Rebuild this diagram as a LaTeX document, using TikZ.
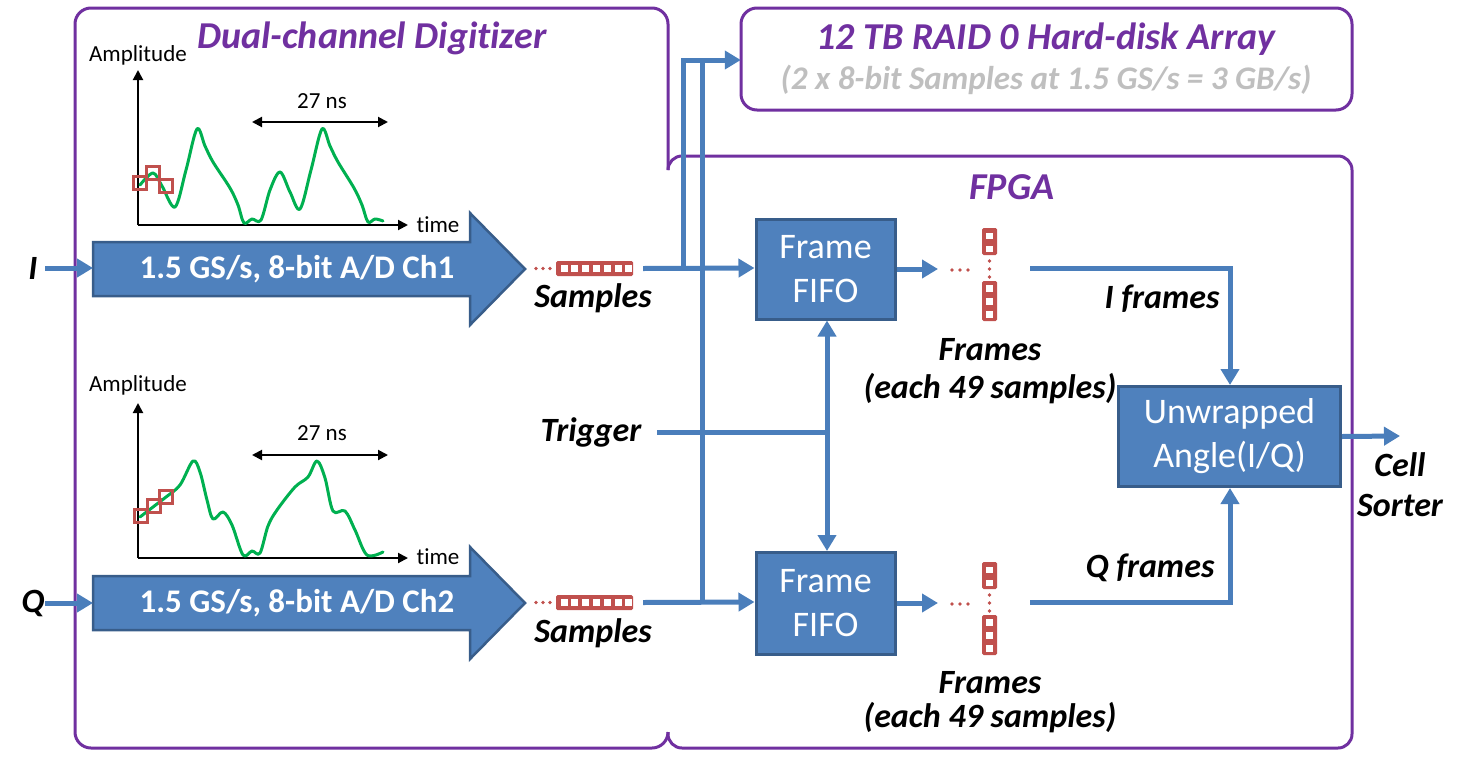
\documentclass[tikz,border=0pt]{standalone}
\usepackage{fontspec}
\setmainfont{Carlito}[Ligatures=NoCommon]
\usetikzlibrary{arrows.meta}
\definecolor{purp}{HTML}{7030A0}
\definecolor{blu}{HTML}{4F81BD}
\definecolor{bord}{HTML}{385D8A}
\definecolor{conn}{HTML}{4A7EBB}
\definecolor{grn}{HTML}{00B050}
\definecolor{smp}{HTML}{C0504D}
\definecolor{lgray}{HTML}{BFBFBF}
\tikzset{
  frame/.style={draw=purp,line width=3pt},
  link/.style={draw=conn,line width=5pt},
  arr/.style={link,-{Triangle[length=16pt,width=18pt]}},
  biarr/.style={link,{Triangle[length=16pt,width=18pt]}-{Triangle[length=16pt,width=18pt]}},
  blockbox/.style={draw=bord,fill=blu,line width=3pt,text=white,align=center,
    font=\fontsize{36}{44}\selectfont},
  adcarrow/.style={draw=bord,fill=blu,line width=2.5pt},
  lbl/.style={font=\fontsize{34}{38}\selectfont\bfseries\itshape,text=black,inner sep=0pt},
  ttl/.style={font=\fontsize{38}{42}\selectfont\bfseries\itshape,text=purp,inner sep=0pt},
  small/.style={font=\fontsize{23}{26}\selectfont,inner sep=0pt},
  axis/.style={line width=2pt,-{Triangle[length=10pt,width=10pt]}},
  dim/.style={line width=2pt,{Triangle[length=10pt,width=10pt]}-{Triangle[length=10pt,width=10pt]}},
  wave/.style={draw=grn,line width=3pt,line cap=round,line join=round},
  sq/.style={draw=smp,line width=3pt},
  dot/.style={fill=smp},
}
\begin{document}
\begin{tikzpicture}[x=1pt,y=-1pt]
\useasboundingbox (0,0) rectangle (1462,761);

% ---- purple frames ----
\draw[frame,rounded corners=16pt] (668,170) -- (668,8) -- (75,8) -- (75,748) -- (668,748) -- (668,732);
\draw[frame,rounded corners=14pt] (668,732) -- (668,748) -- (1352,748) -- (1352,156) -- (668,156) -- (668,170);
\draw[frame,rounded corners=16pt] (741,8) rectangle (1352,110);
\node[draw=none,minimum width=611pt,minimum height=102pt] (raid) at (1046.5,59) {};

% ---- titles ----
\node[ttl] (tdig) at (372,38) {Dual-channel Digitizer};
\node[ttl] (traid) at (1046,39) {12 TB RAID 0 Hard-disk Array};
\node[ttl,text=lgray,font=\fontsize{33}{36}\selectfont\bfseries\itshape] (traid2) at (1046,80) {(2 x 8-bit Samples at 1.5 GS/s = 3 GB/s)};
\node[ttl] (tfpga) at (1012,187) {FPGA};

% ---- waveform plots ----
\foreach \dy/\w in {0/1,333/2}{
  \begin{scope}[yshift=-\dy pt]
  \draw[axis] (138,225) -- (138,70);
  \draw[axis] (138,225) -- (408,225);
  \draw[dim] (252,122) -- (388,122);
  \end{scope}
}
\node[small] (amp1) at (138,55) {Amplitude};
\node[small] (ns1) at (322,101) {27 ns};
\node[small] (tm1) at (438,225) {time};
\node[small] (amp2) at (138,385) {Amplitude};
\node[small] (ns2) at (322,433) {27 ns};
\node[small] (tm2) at (438,557) {time};

\draw[wave] plot[smooth,tension=0.55] coordinates {(140,185) (153,173) (162,186) (175,207) (186,170) (197,129) (205,146) (213,162) (230,188) (238,205) (244,223) (252,219) (261,220) (270,190) (280,172) (290,192) (300,209) (311,170) (322,129) (330,146) (338,162) (354,188) (362,205) (368,222) (375,219) (383,221)};
\draw[wave] plot[smooth,tension=0.55] coordinates {(140,517) (153,507) (166,497) (180,485) (193,461) (200,472) (207,500) (213,519) (223,512) (232,525) (243,555) (252,551) (260,553) (268,526) (277,510) (295,487) (308,477) (317,461) (325,478) (333,511) (345,511) (355,530) (367,555) (383,552)};
\foreach \cx/\cy in {140/182.5,153/173,165.5/186,141/516,153.5/506,166/497}
  \draw[sq] (\cx-6.5,\cy-6.5) rectangle (\cx+6.5,\cy+6.5);

% ---- ADC block arrows ----
\draw[adcarrow] (93,242) -- (470,242) -- (470,213) -- (525,269) -- (470,325) -- (470,296) -- (93,296) -- cycle;
\node[text=white,font=\fontsize{33}{36}\selectfont\bfseries,inner sep=0pt] (adc1) at (297,269) {1.5 GS/s, 8-bit A/D Ch1};
\draw[adcarrow] (93,576) -- (470,576) -- (470,547) -- (525,603) -- (470,659) -- (470,630) -- (93,630) -- cycle;
\node[text=white,font=\fontsize{33}{36}\selectfont\bfseries,inner sep=0pt] (adc2) at (297,603) {1.5 GS/s, 8-bit A/D Ch2};
\coordinate (adc1in) at (93,268);
\coordinate (adc2in) at (93,603);

\node[lbl] (Iin) at (33,268) {I};
\node[lbl] (Qin) at (33,603) {Q};
\draw[arr] (45,268) -- (adc1in);
\draw[arr] (45,603) -- (adc2in);

% ---- samples glyphs ----
\foreach \yy/\n in {268.5/1,602.5/2}{
  \foreach \xx in {536,543,550} \fill[dot] (\xx,\yy) circle (1.8pt);
  \fill[smp,rounded corners=1.5pt] (556,\yy-7.5) rectangle (633,\yy+7.5);
  \foreach \k in {0,...,6} \fill[white] (560.5+\k*10.8,\yy-3.7) rectangle (567.5+\k*10.8,\yy+3.7);
}
\node[inner sep=0pt,minimum width=77pt,minimum height=15pt] (samp1) at (594.5,268.5) {};
\node[inner sep=0pt,minimum width=77pt,minimum height=15pt] (samp2) at (594.5,602.5) {};
\node[lbl] (slab1) at (593,298) {Samples};
\node[lbl] (slab2) at (593,633) {Samples};

% ---- FIFOs and angle block ----
\node[blockbox,minimum width=139pt,minimum height=100pt] (fifo1) at (825.5,269) {Frame\\FIFO};
\node[blockbox,minimum width=139pt,minimum height=102pt] (fifo2) at (825.5,603.5) {Frame\\FIFO};
\node[blockbox,minimum width=222pt,minimum height=100pt] (unw) at (1229.5,436.5) {Unwrapped\\Angle(I/Q)};

% ---- connectors ----
\coordinate (j1) at (683,268);
\coordinate (j2) at (702,602);
\draw[arr] ([xshift=10pt]samp1.east) -- (fifo1.west |- j1);
\draw[arr] ([xshift=10pt]samp2.east) -- (fifo2.west |- j2);
\draw[link] (j1) -- (683,60) -- (702,60);
\draw[arr] (683,60) -- (raid.west |- 0,60);
\draw[link] (j2) -- (702,60);

\node[lbl] (trig) at (591,432) {Trigger};
\coordinate (tj) at (827,432);
\draw[link] (657,432) -- (tj);
\draw[biarr] (fifo1.south -| tj) -- (fifo2.north -| tj);

% frames glyphs
\foreach \dy/\n in {0/1,334/2}{
  \begin{scope}[yshift=-\dy pt]
  \foreach \xx in {952,960,968} \fill[dot] (\xx,270) circle (1.8pt);
  \foreach \yy in {261,269,277} \fill[dot] (989.5,\yy) circle (1.8pt);
  \fill[smp,rounded corners=1.5pt] (982,228) rectangle (997,255);
  \fill[smp,rounded corners=1.5pt] (982,281) rectangle (997,321);
  \foreach \yy in {232.5,245.5,285,298,311} \fill[white] (986,\yy) rectangle (993,\yy+6.5);
  \end{scope}
}
\coordinate (fr1) at (938,269);
\coordinate (fr2) at (938,603);
\draw[arr] (fifo1.east |- fr1) -- (fr1);
\draw[arr] (fifo2.east |- fr2) -- (fr2);
\coordinate (o1) at (1030,268);
\coordinate (o2) at (1030,602);
\draw[arr] (o1) -- (1230,268) -- (unw.north -| 1230,0);
\draw[arr] (o2) -- (1230,602) -- (unw.south -| 1230,0);

\node[lbl] (fl1) at (990,350) {Frames};
\node[lbl] (fe1) at (990,389) {(each 49 samples)};
\node[lbl] (fl2) at (990,683) {Frames};
\node[lbl] (fe2) at (990,718) {(each 49 samples)};
\node[lbl] (if) at (1162,299) {I frames};
\node[lbl] (qf) at (1150,568) {Q frames};

\node[lbl] (cell) at (1400,465) {Cell};
\node[lbl] (sorter) at (1400,505) {Sorter};
\draw[arr] (unw.east) -- (1400,436);
\end{tikzpicture}
\end{document}
